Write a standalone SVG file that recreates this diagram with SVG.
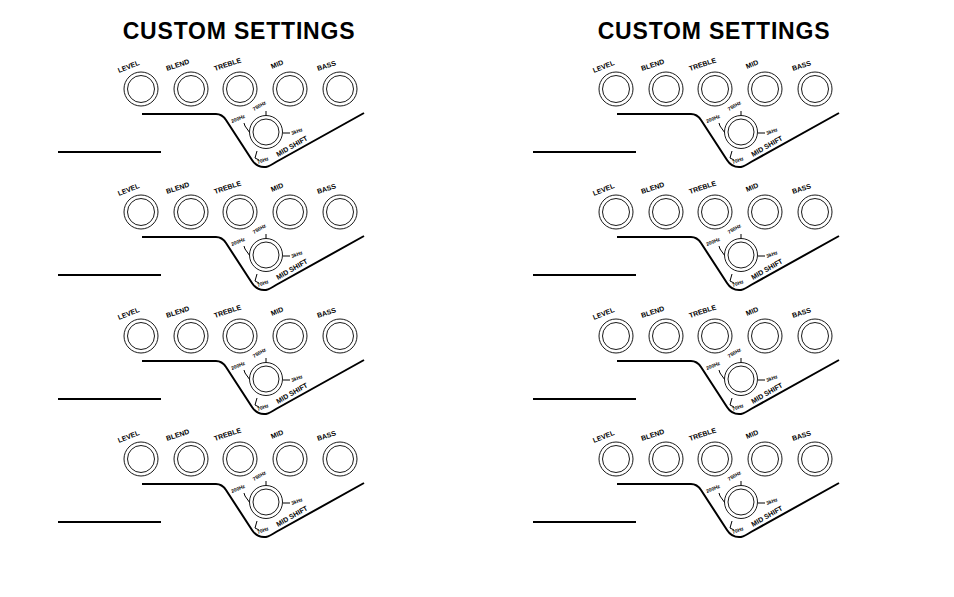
<svg xmlns="http://www.w3.org/2000/svg" width="954" height="597" viewBox="0 0 954 597">
<style>
.t{font-family:"Liberation Sans",Arial,sans-serif;font-weight:bold;font-size:23px;letter-spacing:0.8px;fill:#000}
.l{font-family:"Liberation Sans",Arial,sans-serif;font-weight:bold;font-size:7px;fill:#000}
.s{font-family:"Liberation Sans",Arial,sans-serif;font-weight:bold;font-size:5px;fill:#000}
.ko{fill:#fff;stroke:#000;stroke-width:0.9}
.ki{fill:none;stroke:#000;stroke-width:0.9}
.ln{fill:none;stroke:#000;stroke-width:2}
.tk{fill:none;stroke:#000;stroke-width:1}
</style>
<defs>
<g id="panel">
<path class="ln" d="M142,114 H216 Q222,114 226,120 L252,160 Q257,168 266,167 Q270,166 276,162 L364,113"/>
<line class="ln" x1="58" y1="152" x2="161" y2="152"/>
<g id="knobs">
<circle class="ko" cx="141" cy="89" r="17"/><circle class="ki" cx="141" cy="89" r="13.5"/>
<circle class="ko" cx="191" cy="89" r="17"/><circle class="ki" cx="191" cy="89" r="13.5"/>
<circle class="ko" cx="240" cy="89" r="17"/><circle class="ki" cx="240" cy="89" r="13.5"/>
<circle class="ko" cx="290" cy="89" r="17"/><circle class="ki" cx="290" cy="89" r="13.5"/>
<circle class="ko" cx="340" cy="89" r="17"/><circle class="ki" cx="340" cy="89" r="13.5"/>
<text class="l" transform="translate(119,73) rotate(-22)">LEVEL</text>
<text class="l" transform="translate(167,71) rotate(-18)">BLEND</text>
<text class="l" transform="translate(215,71) rotate(-18)">TREBLE</text>
<text class="l" transform="translate(272,69) rotate(-22)">MID</text>
<text class="l" transform="translate(318,71) rotate(-18)">BASS</text>
</g>
<g id="midshift">
<path class="tk" d="M266,116 V111 M250,133 L245,126 L244,123 M283,133 H290 M257,151 L255,158 L259,160"/>
<circle class="ko" cx="266" cy="132" r="16.5"/><circle class="ki" cx="266" cy="132" r="13"/>
<text class="s" transform="translate(254,111) rotate(-30)">750Hz</text>
<text class="s" transform="translate(232,123) rotate(-22)">200Hz</text>
<text class="s" transform="translate(292,135) rotate(-20)">3kHz</text>
<text class="s" transform="translate(258,164) rotate(-20)">70Hz</text>
<text class="l" transform="translate(278,157) rotate(-30)">MID SHIFT</text>
</g>
</g>
</defs>
<text class="t" x="239" y="39" text-anchor="middle">CUSTOM SETTINGS</text>
<text class="t" x="714" y="39" text-anchor="middle">CUSTOM SETTINGS</text>
<g id="p1"><use href="#panel"/></g>
<g id="p2"><use href="#panel" transform="translate(0,123)"/></g>
<g id="p3"><use href="#panel" transform="translate(0,247)"/></g>
<g id="p4"><use href="#panel" transform="translate(0,370)"/></g>
<g id="p5"><use href="#panel" transform="translate(475,0)"/></g>
<g id="p6"><use href="#panel" transform="translate(475,123)"/></g>
<g id="p7"><use href="#panel" transform="translate(475,247)"/></g>
<g id="p8"><use href="#panel" transform="translate(475,370)"/></g>
</svg>
